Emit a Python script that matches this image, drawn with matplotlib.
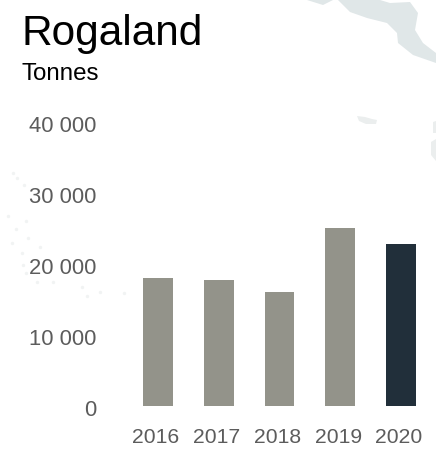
"""Rogaland tonnes per year, bar chart."""

import matplotlib.pyplot as plt
from matplotlib.patches import Polygon
from matplotlib.transforms import ScaledTranslation

W, H = 436, 455

years = ["2016", "2017", "2018", "2019", "2020"]
tonnes = [18000, 17750, 16050, 25070, 22800]
y_ticks = [0, 10000, 20000, 30000, 40000]
y_tick_labels = ["0", "10 000", "20 000", "30 000", "40 000"]

GREY = "#93938a"
DARK = "#212f3a"
TICK = "#5c5c5c"
MAP = "#e0e7e8"
ISLAND = "#ebeeee"

# background map shapes, pixel coords from the top left
land = [(338, 0), (350, 12), (367, 18), (387, 23), (397, 33), (398, 43), (413, 55),
        (436, 63), (436, 53), (423, 43), (415, 30), (418, 13), (410, 2), (390, 3), (380, 0)]
sliver = [(307, 0), (323, 5), (333, 0)]
islands = [[(357, 116), (365, 117), (372, 119), (377, 120), (376, 124), (366, 124), (359, 121)],
           [(433, 122), (436, 121), (436, 133), (433, 133)],
           [(431, 142), (436, 139), (436, 161), (431, 155)]]
dots_x = [13, 17, 24, 8, 26, 16, 28, 12, 40, 22, 23, 26, 37, 53, 82, 87, 100, 124]
dots_y = [173, 178, 185, 216, 221, 229, 238, 243, 247, 253, 265, 273, 282, 282, 287, 296, 292, 293]

plt.rcParams["font.family"] = ["Liberation Sans", "DejaVu Sans"]

fig = plt.figure(figsize=(W / 100, H / 100), dpi=100)
fig.patch.set_facecolor("white")

bg = fig.add_axes([0, 0, 1, 1], zorder=0)
bg.set_xlim(0, W)
bg.set_ylim(H, 0)
bg.axis("off")
for shape in [land, sliver]:
    bg.add_patch(Polygon(shape, closed=True, facecolor=MAP, edgecolor="none"))
for shape in islands:
    bg.add_patch(Polygon(shape, closed=True, facecolor=ISLAND, edgecolor="none"))
bg.scatter(dots_x, dots_y, s=6, color="#f1f3f3", linewidths=0)

ax = fig.add_axes([127.6 / W, 1 - 406 / H, 303.8 / W, 284 / H], zorder=1)
ax.patch.set_alpha(0)
colors = [GREY] * 4 + [DARK]
ax.bar(range(len(years)), tonnes, width=0.49, color=colors)
ax.set_xlim(-0.5, 4.5)
ax.set_ylim(0, 40000)

ax.set_xticks(range(len(years)), years)
ax.set_yticks(y_ticks, y_tick_labels)
ax.tick_params(axis="x", length=0, pad=15.8, labelsize=15.2, labelcolor=TICK)
ax.tick_params(axis="y", length=0, pad=22.4, labelsize=15.8, labelcolor=TICK)
for lab in ax.get_xticklabels():
    lab.set_transform(lab.get_transform() + ScaledTranslation(-2 / 100, 0, fig.dpi_scale_trans))
for lab in ax.get_yticklabels():
    lab.set_transform(lab.get_transform() + ScaledTranslation(0, -2 / 100, fig.dpi_scale_trans))
for s in ax.spines.values():
    s.set_visible(False)

fig.text(21.5 / W, 1 - 44.5 / H, "Rogaland", fontsize=30.5, color="black", va="baseline")
fig.text(21 / W, 1 - 80 / H, "Tonnes", fontsize=17.4, color="black", va="baseline")

fig.savefig("out.png", dpi=100)
